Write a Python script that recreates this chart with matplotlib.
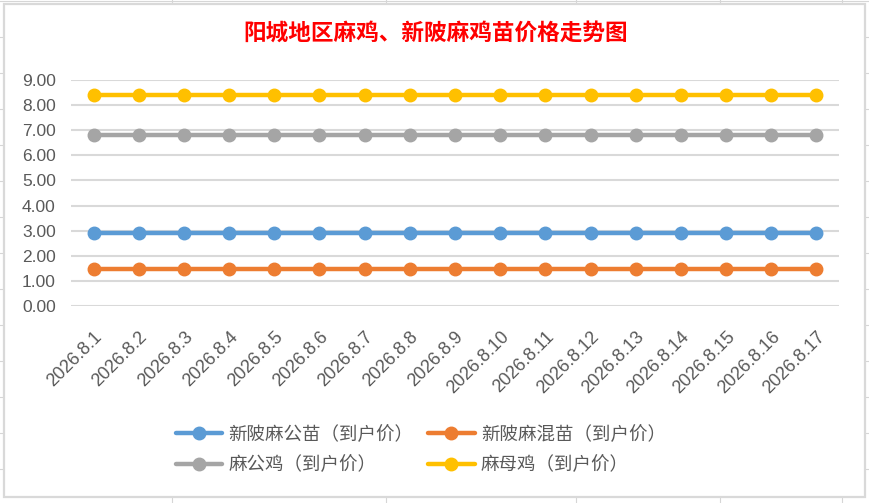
import matplotlib
matplotlib.use("Agg")
import matplotlib.pyplot as plt
from matplotlib.lines import Line2D
from matplotlib.patches import Rectangle

# ---- data ----
categories = ["2026.8.%d" % d for d in range(1, 18)]
series_names = ["新陂麻公苗（到户价）", "新陂麻混苗（到户价）", "麻公鸡（到户价）", "麻母鸡（到户价）"]
s_gongmiao = [2.9] * 17
s_hunmiao = [1.48] * 17
s_gongji = [6.8] * 17
s_muji = [8.4] * 17
y_ticks = [0, 1, 2, 3, 4, 5, 6, 7, 8, 9]
title = "阳城地区麻鸡、新陂麻鸡苗价格走势图"

colors = ["#5B9BD5", "#ED7D31", "#A5A5A5", "#FFC000"]
series = [s_gongmiao, s_hunmiao, s_gongji, s_muji]

W, H = 870, 503
fig = plt.figure(figsize=(W / 100, H / 100), dpi=100)
fig.patch.set_facecolor("white")

# background spreadsheet grid (outside chart area)
sheet_col = "#D6D6D6"
for yy in range(1, 510, 36):
    fig.add_artist(Line2D([0, 1], [1 - yy / H] * 2, color=sheet_col, lw=0.8, zorder=0))
for xx in [172, 386, 576, 720, 842]:
    fig.add_artist(Line2D([xx / W] * 2, [0, 1], color=sheet_col, lw=0.8, zorder=0))
# chart area
fig.add_artist(Rectangle((4 / W, 1 - 497 / H), (865 - 4) / W, (497 - 4) / H,
                         facecolor="white", edgecolor="#D9D9D9", lw=1.6, zorder=1))

ax = fig.add_axes([71 / W, 1 - 306 / H, (839 - 71) / W, (306 - 80) / H], zorder=2)
ax.set_facecolor("none")
x = list(range(len(categories)))
for name, vals, c in zip(series_names, series, colors):
    ax.plot(x, vals, color=c, lw=3.2, marker="o", markersize=9, label=name,
            solid_capstyle="round", zorder=3)

ax.set_xlim(-0.5, len(categories) - 0.5)
ax.set_ylim(0, 9)
ax.set_yticks(y_ticks)
ax.set_yticklabels(["%.2f" % v for v in y_ticks])
ax.yaxis.grid(True, color="#D9D9D9", lw=1.5)
ax.set_axisbelow(True)
for sp in ax.spines.values():
    sp.set_visible(False)
ax.tick_params(axis="both", length=0)
ax.tick_params(axis="y", pad=11, labelsize=12.5, labelcolor="#595959")
ax.set_xticks(x)
ax.set_xticklabels(categories, rotation=45, ha="right", va="top",
                   rotation_mode="anchor", fontsize=13, color="#595959",
                   family="Liberation Sans")
for lab in ax.get_yticklabels():
    lab.set_family("Liberation Sans")
ax.tick_params(axis="x", pad=16)

fig.text(0.5006, 1 - 33 / H, title, ha="center", va="center", color="#FF0000",
         fontsize=16.3, fontweight="bold", family=["Noto Sans CJK SC", "DejaVu Sans"])

handles, labels = ax.get_legend_handles_labels()
order = [0, 2, 1, 3]
leg = fig.legend([handles[i] for i in order], [labels[i] for i in order],
                 ncol=2, loc="center",
                 bbox_to_anchor=(421 / W, 1 - 450 / H), frameon=False,
                 prop={"family": ["Noto Sans CJK SC", "DejaVu Sans"], "size": 13.3},
                 handlelength=2.5, handletextpad=0.35, columnspacing=0.8,
                 labelspacing=0.66, labelcolor="#595959")

fig.savefig("out.png", dpi=100, facecolor="white")
